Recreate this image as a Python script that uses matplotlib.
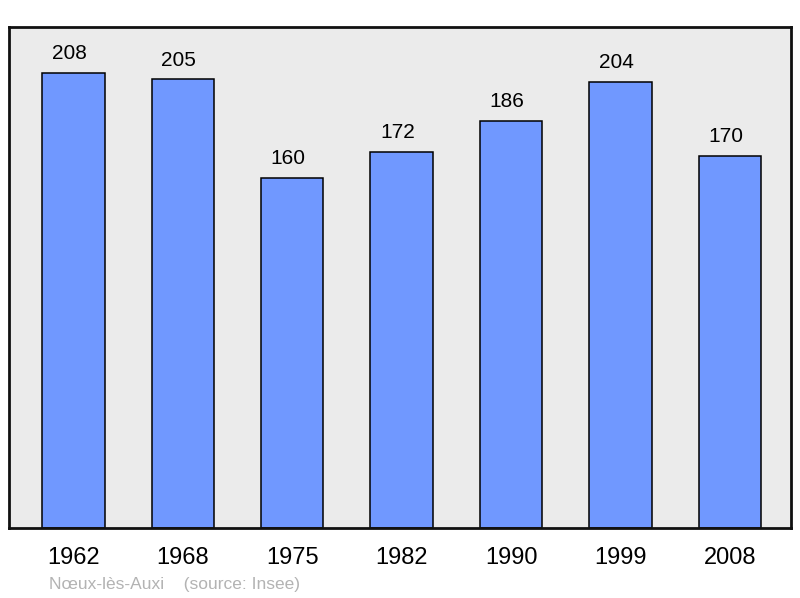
import matplotlib
matplotlib.use("Agg")
import matplotlib.pyplot as plt

years = ["1962", "1968", "1975", "1982", "1990", "1999", "2008"]
population = [208, 205, 160, 172, 186, 204, 170]
source_text = "Nœux-lès-Auxi    (source: Insee)"

plt.rcParams['font.family'] = ['Liberation Sans', 'DejaVu Sans']

fig = plt.figure(figsize=(8, 5.98), dpi=100)
ax = fig.add_axes([0.01125, 0.117, 0.9775, 0.838])
ax.set_facecolor('#ebebeb')

x = list(range(len(years)))
ax.bar(x, population, width=0.57, color='#7098ff', edgecolor='black', linewidth=1.1, zorder=2)
ax.set_xlim(-0.59, 6.56)
ax.set_ylim(0, 229)

for xi, v in zip(x, population):
    ax.annotate(str(v), (xi, v), xytext=(-3, 7), textcoords='offset points',
                ha='center', va='bottom', fontsize=15, color='black')

ax.set_xticks(x)
ax.set_xticklabels(years, fontsize=17)
ax.tick_params(axis='x', length=0, pad=13.5)
ax.set_yticks([])
for s in ax.spines.values():
    s.set_linewidth(2)
    s.set_color('#111111')

fig.text(49/800, 1 - 584/598, source_text, fontsize=12.5, color='#b3b3b3', ha='left', va='center')

fig.savefig('out.png', dpi=100)
